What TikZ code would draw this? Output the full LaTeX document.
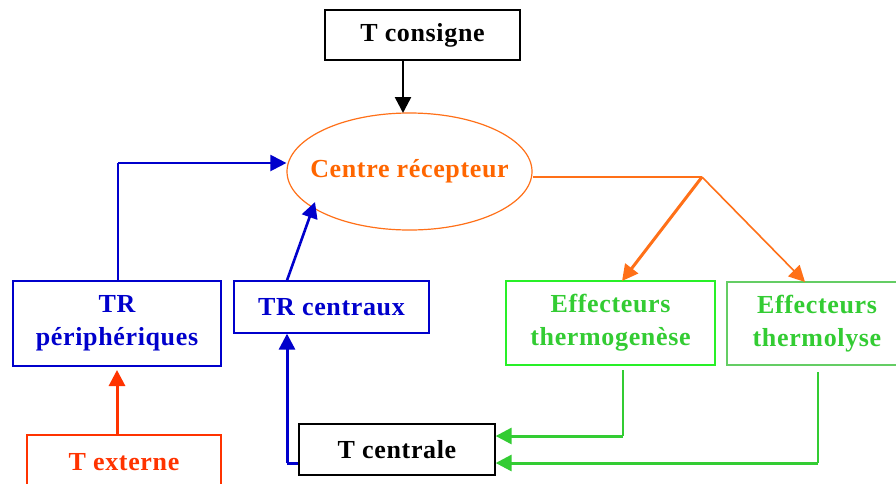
\documentclass[tikz,border=0pt]{standalone}
\usepackage{fontspec}
\setmainfont{Liberation Serif}[LetterSpace=2.5]
\usetikzlibrary{arrows.meta,shapes.geometric}
\definecolor{cblue}{RGB}{0,0,204}
\definecolor{corange}{RGB}{255,112,24}
\definecolor{ctorange}{RGB}{255,102,0}
\definecolor{cred}{RGB}{255,51,0}
\definecolor{cgreen}{RGB}{51,204,51}
\definecolor{cgbox}{RGB}{40,240,40}
\definecolor{cgbox2}{RGB}{100,205,100}
\tikzset{
  lbl/.style={font=\fontsize{26}{33}\selectfont\bfseries, align=center, inner sep=0pt},
  box/.style={lbl, draw, line width=1.3pt},
  tip/.style={-{Triangle[length=16pt,width=16pt]}},
}
\begin{document}
\begin{tikzpicture}[x=1pt,y=-1pt]
\useasboundingbox[fill=white] (0,0) rectangle (896,483);
% nodes
\node[box, black, minimum width=195pt, minimum height=50pt] (tcons) at (422.5,35) {T consigne};
\node[lbl, draw=corange, line width=1.2pt, ellipse, minimum width=245pt, minimum height=117pt, text=ctorange] (cr) at (409.5,171.5) {\makebox[0pt]{\raisebox{3pt}{Centre récepteur}}};
\node[box, cblue, minimum width=208pt, minimum height=85pt] (trp) at (117,323.5) {TR\\périphériques};
\node[box, cblue, minimum width=195pt, minimum height=52pt] (trc) at (331.5,307) {TR centraux};
\node[box, draw=cgbox, text=cgreen, minimum width=209pt, minimum height=84pt] (eg) at (610.5,323) {Effecteurs\\thermogenèse};
\node[box, draw=cgbox2, text=cgreen, minimum width=180pt, minimum height=83pt] (el) at (817,323.5) {Effecteurs\\thermolyse};
\node[box, black, minimum width=196pt, minimum height=51pt] (tcen) at (397,449.5) {T centrale};
\node[box, cred, minimum width=194pt, minimum height=55pt] (text) at (124,462.5) {T externe};
% coordinates
\coordinate (b1) at (118,163);
\coordinate (os) at (702,177);
\coordinate (g1a) at (623,370);
\coordinate (g1b) at (623,436);
\coordinate (g2a) at (818,372);
\coordinate (g2b) at (818,463);
\coordinate (bc) at (287,463);
% connectors
\draw[tip, line width=2.5pt, black] (tcons.south -| 403,0) -- (403,113);
\draw[line width=1.6pt, cblue] (trp.north -| b1) -- (b1);
\draw[tip, line width=2.2pt, cblue] (b1) -- (cr.west |- b1);
\draw[tip, line width=2.6pt, cblue] (trc.north -| 287,0) -- (315,202);
\draw[line width=3pt, cblue] (tcen.west |- bc) -- (bc);
\draw[tip, line width=3pt, cblue] (bc) -- (trc.south -| bc);
\draw[tip, line width=3pt, cred] (text.north -| 117,0) -- (117,370);
\draw[line width=1.6pt, corange] (cr.east |- os) -- (os);
\draw[tip, line width=3pt, corange] (os) -- (622,281);
\draw[tip, line width=1.6pt, corange] (os) -- (805,282);
\draw[line width=1.5pt, cgreen] (g1a) -- (g1b);
\draw[tip, line width=3pt, cgreen] (g1b) -- (tcen.east |- g1b);
\draw[line width=1.5pt, cgreen] (g2a) -- (g2b);
\draw[tip, line width=3pt, cgreen] (g2b) -- (tcen.east |- g2b);
\end{tikzpicture}
\end{document}
